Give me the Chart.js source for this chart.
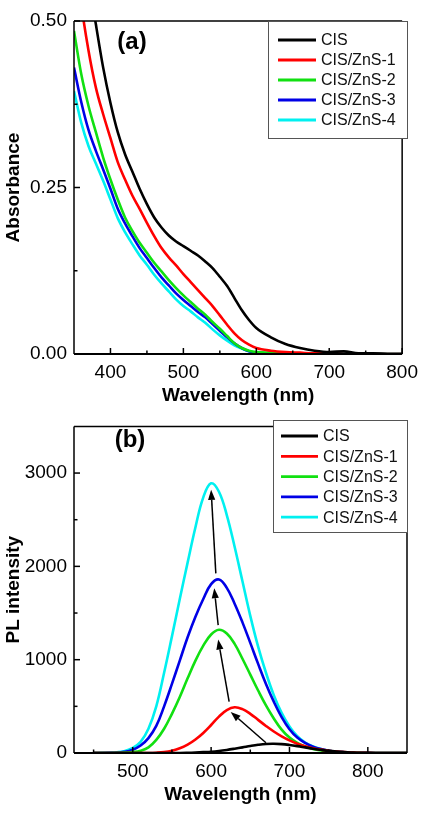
<!DOCTYPE html>
<html><head><meta charset="utf-8">
<script src="https://cdn.jsdelivr.net/npm/chart.js@4.4.1/dist/chart.umd.min.js"></script>
<style>
html,body{margin:0;padding:0;background:#fff;}
#wrapA{position:absolute;left:0;top:0;width:425px;height:408px;}
#wrapB{position:absolute;left:0;top:408px;width:425px;height:408px;}
</style></head><body>
<div id="wrapA"><canvas id="cA"></canvas></div>
<div id="wrapB"><canvas id="cB"></canvas></div>
<script>
// ---------- data ----------
const seriesNames = ['CIS','CIS/ZnS-1','CIS/ZnS-2','CIS/ZnS-3','CIS/ZnS-4'];

// (a) absorbance
const absWavelength = [350,360,370,380,390,400,410,420,430,440,450,460,470,480,490,500,510,520,530,540,550,560,570,580,590,600,620,640,660,680,700,720,740,760,780,800];
const absCIS   = [0.75,0.65,0.565,0.495,0.43,0.377,0.333,0.300,0.274,0.248,0.225,0.205,0.190,0.178,0.169,0.162,0.155,0.148,0.139,0.129,0.116,0.102,0.084,0.066,0.051,0.039,0.025,0.015,0.009,0.005,0.003,0.004,0.001,0.001,0,0];
const absZnS1  = [0.62,0.525,0.455,0.40,0.36,0.324,0.288,0.262,0.238,0.218,0.197,0.177,0.159,0.145,0.133,0.120,0.108,0.096,0.084,0.072,0.058,0.044,0.031,0.021,0.014,0.009,0.005,0.003,0.002,0.001,0.001,0,0,0,0,0];
const absZnS2  = [0.485,0.42,0.372,0.333,0.295,0.262,0.232,0.205,0.185,0.167,0.152,0.137,0.124,0.111,0.099,0.088,0.078,0.068,0.059,0.048,0.038,0.027,0.016,0.009,0.005,0.003,0.002,0.001,0,0,0,0,0,0,0,0];
const absZnS3  = [0.43,0.378,0.336,0.305,0.277,0.248,0.218,0.196,0.177,0.159,0.144,0.129,0.115,0.103,0.091,0.081,0.072,0.063,0.055,0.045,0.035,0.025,0.016,0.009,0.004,0.002,0.001,0,0,0,0,0,0,0,0,0];
const absZnS4  = [0.395,0.347,0.312,0.286,0.26,0.232,0.204,0.183,0.165,0.148,0.134,0.119,0.106,0.094,0.082,0.072,0.064,0.055,0.047,0.037,0.028,0.020,0.013,0.008,0.004,0.002,0.001,0,0,0,0,0,0,0,0,0];
const absXTicks = [400,500,600,700,800];
const absXMinor = [450,550,650,750];
const absYTicks = [0,0.25,0.5];
const absYMinor = [0.125,0.375];

// (b) PL
const plWavelength = [450,460,470,480,490,500,510,520,530,540,550,560,570,580,590,600,610,620,630,640,650,660,670,680,690,700,710,720,730,740,750,760,770,780,790,800,820,850];
const plCIS   = [0,0,0,0,0,0,0,0,0,0,0,0,2,5,9,14,22,33,46,60,75,88,97,99,95,86,74,60,46,34,23,15,9,5,2,1,0,0];
const plZnS1  = [0,0,0,0,0,0,0,0,3,10,25,50,90,145,215,300,390,460,490,470,420,355,290,230,178,135,100,73,52,36,24,15,9,5,2,1,0,0];
const plZnS2  = [0,0,0,1,4,10,25,60,140,260,420,600,800,990,1150,1270,1320,1280,1170,1010,840,670,510,370,250,165,108,70,44,27,16,9,5,2,1,0,0,0];
const plZnS3  = [0,0,1,4,12,35,80,160,290,500,740,990,1240,1460,1650,1810,1860,1770,1600,1400,1180,955,740,550,385,255,165,108,68,42,25,14,8,4,2,1,0,0];
const plZnS4  = [0,1,3,8,22,55,120,260,500,860,1250,1650,2040,2420,2740,2890,2800,2550,2210,1840,1470,1140,860,620,430,285,180,112,70,42,25,14,8,4,2,1,0,0];
const plXTicks = [500,600,700,800];
const plXMinor = [450,550,650,750];
const plYTicks = [0,1000,2000,3000];
const plYMinor = [500,1500,2500];
// arrows (wavelength, intensity)
const arrowFromX = [670,623,609,606];
const arrowFromY = [110,550,1370,1925];
const arrowToX   = [625,609,604,600];
const arrowToY   = [440,1215,1765,2820];

// ---------- styles ----------
const colors = ['#000000','#ff0000','#11e011','#0000e6','#00f0f0'];
const FF = 'Arial, "Liberation Sans", sans-serif';

function mk(xs, ys){ return xs.map((x,i)=>({x:x,y:ys[i]})); }
function datasets(xs, arrs, tension){
  return arrs.map((a,i)=>({label:seriesNames[i], data:mk(xs,a), borderColor:colors[i], backgroundColor:colors[i],
    borderWidth:2.6, pointRadius:0, fill:false, tension:tension,
    cubicInterpolationMode: tension===0 ? 'monotone':'default'}));
}

function decorPlugin(cfg){
  return {id:'decor', afterDraw(chart){
    const ctx=chart.ctx, a=chart.chartArea, xs=chart.scales.x, ys=chart.scales.y;
    ctx.save();
    ctx.strokeStyle='#000'; ctx.lineCap='butt';
    function ln(x1,y1,x2,y2,w){ctx.lineWidth=w;ctx.beginPath();ctx.moveTo(x1,y1);ctx.lineTo(x2,y2);ctx.stroke();}
    cfg.xMajor.forEach(v=>{const p=xs.getPixelForValue(v); ln(p,a.bottom,p,a.bottom-6,1.5);});
    cfg.xMinor.forEach(v=>{const p=xs.getPixelForValue(v); ln(p,a.bottom,p,a.bottom-3.5,1.5);});
    cfg.yMajor.forEach(v=>{const p=ys.getPixelForValue(v); ln(a.left,p,a.left+6,p,1.5);});
    cfg.yMinor.forEach(v=>{const p=ys.getPixelForValue(v); ln(a.left,p,a.left+3.5,p,1.5);});
    // frame
    ln(a.left,a.top,a.right,a.top,1.5);
    ln(a.right,a.top,a.right,a.bottom,1.5);
    ln(a.left,a.top,a.left,a.bottom,1.5);
    ln(a.left,a.bottom,a.right,a.bottom,2);
    // arrows
    if(cfg.arrows){
      ctx.fillStyle='#000';
      for(let i=0;i<arrowFromX.length;i++){
        const x1=xs.getPixelForValue(arrowFromX[i]), y1=ys.getPixelForValue(arrowFromY[i]);
        const x2=xs.getPixelForValue(arrowToX[i]), y2=ys.getPixelForValue(arrowToY[i]);
        const ang=Math.atan2(y2-y1,x2-x1), L=10, W=3.6;
        const bx=x2-L*Math.cos(ang), by=y2-L*Math.sin(ang);
        ln(x1,y1,bx,by,1.5);
        ctx.beginPath();
        ctx.moveTo(x2,y2);
        ctx.lineTo(bx+W*Math.sin(ang), by-W*Math.cos(ang));
        ctx.lineTo(bx-W*Math.sin(ang), by+W*Math.cos(ang));
        ctx.closePath(); ctx.fill();
      }
    }
    // panel label
    ctx.fillStyle='#000'; ctx.font='bold 24px '+FF; ctx.textAlign='center'; ctx.textBaseline='middle';
    ctx.fillText(cfg.panel, cfg.panelX, cfg.panelY);
    // legend
    const L=cfg.legend;
    ctx.fillStyle='#fff'; ctx.fillRect(L.x, L.y, L.w, L.h);
    ctx.strokeStyle='#555'; ctx.lineWidth=1; ctx.strokeRect(L.x+0.5, L.y+0.5, L.w, L.h);
    ctx.font='16px '+FF; ctx.textAlign='left'; ctx.textBaseline='middle';
    seriesNames.forEach((n,i)=>{
      const y=L.y0+i*L.dy;
      ctx.strokeStyle=colors[i]; ctx.lineWidth=2.8;
      ctx.beginPath(); ctx.moveTo(L.lx1,y); ctx.lineTo(L.lx2,y); ctx.stroke();
      ctx.fillStyle='#111'; ctx.fillText(n, L.tx, y+1);
    });
    ctx.restore();
  }};
}

function axisCfg(min,max,ticksArr,fmt,pad,size,isX,title,titlePad){
  return {
    type:'linear', min:min, max:max,
    afterBuildTicks: s=>{ s.ticks = ticksArr.map(v=>({value:v})); },
    afterFit: s=>{ if(isX) s.height=size; else s.width=size; },
    ticks:{ callback:fmt, padding:pad, color:'#000', font:{family:FF,size:19}, maxRotation:0, autoSkip:false },
    grid:{ display:false, drawTicks:false },
    border:{ display:false },
    title:{ display:true, text:title, color:'#000', font:{family:FF,size:19,weight:'bold'}, padding:titlePad }
  };
}

Chart.defaults.animation=false;

new Chart(document.getElementById('cA'), {
  type:'line',
  data:{ datasets: datasets(absWavelength,[absCIS,absZnS1,absZnS2,absZnS3,absZnS4],0) },
  options:{
    responsive:true, maintainAspectRatio:false, animation:false,
    layout:{ padding:{left:0,right:18,top:21,bottom:0} },
    plugins:{ legend:{display:false}, tooltip:{enabled:false} },
    scales:{
      x: axisCfg(350,800,absXTicks,v=>String(v),7,54,true,'Wavelength (nm)',{top:0,bottom:1}),
      y: axisCfg(0,0.5,absYTicks,v=>v.toFixed(2),7,74,false,'Absorbance',{top:2,bottom:0})
    }
  },
  plugins:[decorPlugin({xMajor:absXTicks,xMinor:absXMinor,yMajor:absYTicks,yMinor:absYMinor,arrows:false,
    panel:'(a)',panelX:132,panelY:42,
    legend:{x:268,y:21,w:139,h:117,y0:40,dy:20,lx1:278,lx2:316,tx:321}})]
});

new Chart(document.getElementById('cB'), {
  type:'line',
  data:{ datasets: datasets(plWavelength,[plCIS,plZnS1,plZnS2,plZnS3,plZnS4],0.4) },
  options:{
    responsive:true, maintainAspectRatio:false, animation:false,
    layout:{ padding:{left:0,right:18,top:12,bottom:0} },
    plugins:{ legend:{display:false}, tooltip:{enabled:false} },
    scales:{
      x: axisCfg(425,850,plXTicks,v=>String(v),7,63,true,'Wavelength (nm)',{top:0,bottom:10}),
      y: axisCfg(0,3500,plYTicks,v=>String(v),7,74,false,'PL intensity',{top:2,bottom:0})
    }
  },
  plugins:[decorPlugin({xMajor:plXTicks,xMinor:plXMinor,yMajor:plYTicks,yMinor:plYMinor,arrows:true,
    panel:'(b)',panelX:130,panelY:32,
    legend:{x:273,y:12,w:134,h:112,y0:28,dy:20.3,lx1:281,lx2:318,tx:323}})]
});
</script>
</body></html>
